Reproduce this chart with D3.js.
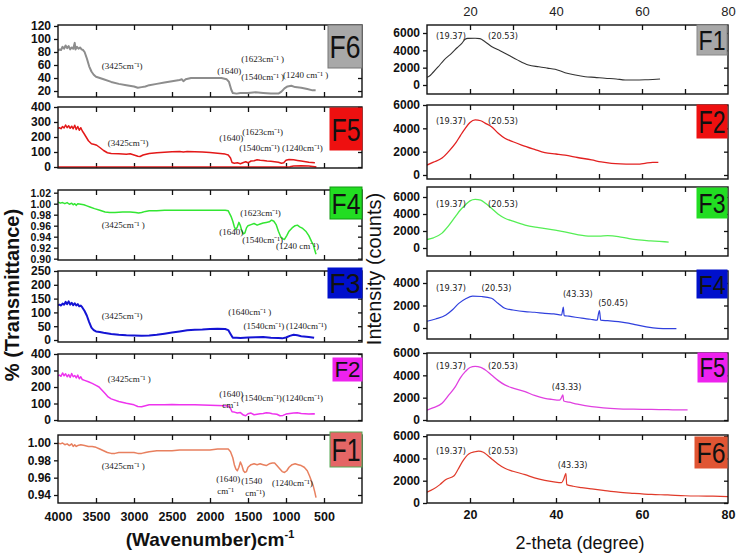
<!DOCTYPE html>
<html><head><meta charset="utf-8">
<script src="https://cdn.jsdelivr.net/npm/d3@7"></script>
<style>body{margin:0;background:#fff}</style>
</head><body><svg id="c" width="738" height="560"></svg>
<script>
// ---------------- FTIR data (wavenumber, transmittance) ----------------
const ftirF6 = [[4000,82],[3980,84],[3960,83],[3940,88],[3920,85],[3900,90],[3880,86],[3860,89],[3840,84],[3820,87],[3800,85],[3780,94],[3770,84],[3750,88],[3730,85],[3710,87],[3690,84],[3670,83],[3650,80],[3620,70],[3590,58],[3560,50],[3530,45],[3500,42],[3450,40],[3400,38],[3300,34],[3200,31],[3100,29],[3000,27],[2950,25],[2900,26],[2850,27],[2800,29],[2700,31],[2600,33],[2500,35],[2400,37],[2370,38],[2350,35],[2320,38],[2250,40],[2150,40],[2050,40],[1950,40],[1850,40],[1780,38],[1750,34],[1720,22],[1700,17],[1650,16],[1600,17],[1500,17],[1400,18],[1300,17],[1200,16],[1100,16],[1060,19],[1020,24],[980,27],[930,28],[880,26],[800,25],[720,23],[650,21],[610,21]];
const ftirF5 = [[4000,258],[3980,262],[3960,255],[3940,270],[3920,260],[3900,280],[3880,262],[3860,275],[3840,258],[3820,272],[3800,255],[3780,278],[3760,250],[3740,270],[3720,245],[3700,262],[3680,240],[3660,225],[3630,200],[3600,175],[3560,155],[3520,150],[3490,145],[3450,130],[3400,110],[3350,95],[3300,90],[3200,88],[3100,85],[3050,88],[3000,80],[2950,72],[2920,70],[2880,80],[2800,90],[2700,95],[2600,98],[2500,102],[2400,104],[2350,100],[2300,104],[2200,102],[2100,100],[2000,96],[1900,92],[1800,86],[1760,80],[1730,60],[1710,30],[1680,25],[1640,28],[1600,22],[1560,30],[1530,35],[1500,28],[1460,40],[1420,42],[1380,48],[1340,45],[1300,44],[1250,40],[1200,38],[1150,35],[1100,32],[1060,25],[1030,28],[1000,45],[960,50],[900,48],[850,44],[800,40],[700,32],[620,28]];
const ftirF5base = [[4000,0],[1000,0],[950,2],[900,7],[800,9],[700,6],[620,2],[600,0]];
const ftirF4 = [[4000,1.003],[3970,1.001],[3940,1.002],[3910,1.000],[3880,1.002],[3850,0.999],[3820,1.001],[3800,0.998],[3780,1.000],[3760,0.997],[3740,1.000],[3700,0.999],[3660,0.998],[3620,0.996],[3580,0.994],[3520,0.991],[3450,0.988],[3380,0.985],[3320,0.984],[3250,0.984],[3150,0.985],[3050,0.985],[2980,0.984],[2940,0.983],[2900,0.984],[2850,0.986],[2800,0.987],[2700,0.987],[2600,0.988],[2500,0.988],[2400,0.988],[2300,0.988],[2200,0.988],[2100,0.988],[2000,0.988],[1900,0.988],[1800,0.988],[1760,0.987],[1720,0.976],[1700,0.968],[1680,0.958],[1660,0.953],[1640,0.958],[1620,0.966],[1600,0.960],[1580,0.950],[1560,0.945],[1540,0.947],[1520,0.956],[1500,0.960],[1460,0.962],[1420,0.964],[1380,0.961],[1340,0.963],[1300,0.965],[1260,0.966],[1220,0.967],[1190,0.970],[1160,0.968],[1130,0.962],[1100,0.950],[1070,0.940],[1040,0.936],[1020,0.935],[990,0.942],[960,0.950],[920,0.956],[880,0.960],[850,0.961],[820,0.958],[780,0.955],[740,0.950],[700,0.942],[660,0.930],[640,0.925],[620,0.915],[605,0.908]];
const ftirF3 = [[4000,126],[3980,128],[3960,125],[3940,132],[3920,128],[3900,138],[3880,130],[3860,140],[3840,128],[3820,135],[3800,126],[3780,133],[3760,125],[3740,130],[3720,122],[3700,125],[3680,118],[3650,105],[3620,88],[3590,65],[3560,45],[3530,36],[3500,31],[3450,29],[3400,26],[3300,22],[3200,19],[3100,17],[3000,16],[2900,15],[2800,16],[2700,19],[2600,23],[2500,27],[2400,31],[2300,35],[2200,37],[2100,38],[2000,40],[1900,41],[1800,40],[1760,36],[1730,22],[1700,8],[1650,8],[1600,7],[1550,8],[1500,9],[1400,10],[1300,11],[1200,8],[1100,7],[1050,6],[1000,9],[950,15],[900,19],[850,17],[800,14],[700,11],[630,8]];
const ftirF2 = [[4000,268],[3980,272],[3960,265],[3940,285],[3920,268],[3900,280],[3880,262],[3860,275],[3840,258],[3820,282],[3800,262],[3780,270],[3760,255],[3740,272],[3720,250],[3700,262],[3680,245],[3650,240],[3600,232],[3550,222],[3500,210],[3460,200],[3420,180],[3380,160],[3340,140],[3300,128],[3200,112],[3100,101],[3000,92],[2950,82],[2900,80],[2850,86],[2800,92],[2700,93],[2600,92],[2500,94],[2400,93],[2300,92],[2200,92],[2100,91],[2000,90],[1900,88],[1800,86],[1760,85],[1730,70],[1710,50],[1680,48],[1640,42],[1600,45],[1560,30],[1530,26],[1500,38],[1460,42],[1420,32],[1380,35],[1340,38],[1300,40],[1260,44],[1220,42],[1180,38],[1120,35],[1080,26],[1040,28],[1000,36],[950,40],[900,42],[850,44],[800,40],[750,38],[700,36],[640,38],[620,36]];
const ftirF1 = [[4000,1.000],[3970,0.999],[3940,1.000],[3910,0.998],[3880,0.999],[3850,0.997],[3820,0.999],[3800,0.996],[3780,0.998],[3760,0.996],[3740,0.997],[3700,0.998],[3650,0.997],[3600,0.996],[3550,0.996],[3500,0.995],[3450,0.993],[3400,0.991],[3350,0.989],[3300,0.988],[3250,0.988],[3200,0.989],[3100,0.989],[3000,0.989],[2950,0.988],[2900,0.988],[2850,0.989],[2800,0.990],[2700,0.991],[2600,0.991],[2500,0.991],[2400,0.992],[2300,0.992],[2200,0.992],[2100,0.992],[2000,0.992],[1900,0.993],[1800,0.993],[1760,0.993],[1730,0.990],[1700,0.983],[1680,0.975],[1660,0.970],[1640,0.968],[1620,0.972],[1600,0.978],[1580,0.974],[1560,0.968],[1540,0.966],[1520,0.967],[1500,0.972],[1460,0.975],[1420,0.976],[1380,0.975],[1340,0.976],[1300,0.975],[1260,0.974],[1220,0.976],[1180,0.977],[1150,0.977],[1120,0.974],[1080,0.970],[1050,0.967],[1020,0.966],[990,0.968],[960,0.972],[920,0.975],[880,0.976],[840,0.975],[800,0.974],[760,0.972],[720,0.968],[690,0.962],[660,0.955],[640,0.950],[620,0.943],[605,0.937]];

// ---------------- XRD data (2-theta, counts) ----------------
const xrdF1 = [[10,900],[10.5,1000],[11.5,1500],[12.6,2100],[14,2900],[15.7,3650],[17,4300],[18.1,4810],[18.8,5250],[19.5,5380],[21.2,5400],[22.3,5350],[23.5,5000],[25,4450],[27,3950],[28.9,3460],[31,2900],[33.6,2310],[36,2100],[38,1950],[39.8,1820],[42.1,1420],[44.5,1150],[46.8,960],[49,880],[51.4,780],[54,700],[56.1,580],[58,580],[60.7,600],[62.5,640],[64.2,690]];
const xrdF2 = [[10,850],[11.5,1100],[13.5,1450],[15,2000],[16.6,2700],[17.8,3400],[18.9,4000],[20,4500],[21.2,4720],[22.5,4650],[23.5,4450],[25,4140],[26.5,3600],[28.1,3150],[30,2850],[32,2570],[35,2200],[37.4,1920],[40,1800],[42.1,1700],[45,1500],[48.3,1290],[50.5,1120],[52.9,1000],[55,950],[57.6,930],[59.5,940],[60.7,1000],[62.5,1080],[63.8,1080]];
const xrdF3 = [[10,1000],[11.5,1200],[13.5,1750],[15,2600],[16.6,3690],[17.8,4500],[18.9,5060],[20,5550],[21.2,5720],[22.5,5620],[23.5,5300],[25,4670],[26.5,4000],[28.1,3500],[30,3150],[32.8,2700],[36,2400],[39.8,2100],[42,1900],[45.2,1550],[48,1400],[50,1400],[52,1450],[54.5,1350],[57,1100],[59.2,950],[62,850],[64,780],[66.2,700]];
const xrdF4 = [[10,600],[12,800],[14.4,1160],[16,1650],[17.4,2190],[19,2600],[20.6,2840],[22.7,2800],[25,2640],[26.5,2200],[28.1,1750],[30,1600],[32.8,1450],[35,1400],[37.4,1300],[39.5,1250],[41.3,1150],[41.5,1500],[41.7,1850],[41.9,1100],[43,1050],[46,870],[48,780],[49.6,700],[49.8,1100],[50.1,1550],[50.4,700],[52,650],[54.5,560],[56,480],[57.6,370],[59,250],[61,100],[63.8,-30],[66,-50],[68,-50]];
const xrdF5 = [[10,880],[11.5,1100],[13.5,1500],[15,2200],[16.6,2990],[17.8,3800],[18.9,4330],[20,4700],[21.2,4800],[22.5,4720],[23.5,4500],[25,4030],[26.5,3550],[28.1,3140],[30,2850],[32.8,2540],[35,2200],[37.4,1940],[39,1850],[40.8,1780],[41.2,1950],[41.6,2250],[41.8,1700],[43,1600],[45,1420],[48.3,1190],[51,1080],[54.5,1000],[58,970],[62.2,950],[66,920],[70.6,900]];
const xrdF6 = [[10,970],[11.5,1250],[13,1650],[14.4,2110],[16.3,2450],[17.2,3000],[18.2,3690],[19.7,4400],[21.2,4600],[22,4650],[23.1,4550],[24,4300],[25,3970],[26.5,3500],[28.1,3110],[30,2850],[32.8,2540],[35,2250],[37.4,2030],[39.5,1900],[41.3,1830],[41.8,2150],[42.3,2650],[42.5,1650],[44,1500],[46,1380],[48.3,1260],[51,1130],[54.5,970],[58,870],[62.2,770],[66,720],[70,650],[75,620],[80,580]];

// ---------------- tick values ----------------
const ftirXTicks = [4000,3500,3000,2500,2000,1500,1000,500];
const xrdXTicks = [20,30,40,50,60,70];
const xrdXLabels = [20,40,60,80];
const ticksF6 = [20,40,60,80,100,120];
const ticksF5 = [0,100,200,300,400];
const ticksF4 = [0.90,0.92,0.94,0.96,0.98,1.00,1.02];
const ticksF3 = [0,50,100,150,200,250];
const ticksF2 = [0,100,200,300,400];
const ticksF1 = [0.94,0.96,0.98,1.00];
const ticksX6000 = [0,2000,4000,6000];
const ticksX4000 = [0,2000,4000];

// ---------------- annotations [x, y, text] ----------------
const notesF6 = [[3424,54,"(3425cm⁻¹)"],[1590,64.6,"(1623cm⁻¹ )"],[1904,46,"(1640)"],[1590,37,"(1540cm⁻¹ )"],[1040,40,"(1240 cm⁻¹ )"]];
const notesF5 = [[3345,140,"(3425cm⁻¹)"],[1878,173,"(1640)"],[1576,213,"(1623cm⁻¹)"],[1616,107,"(1540cm⁻¹)"],[1052,107,"(1240cm⁻¹)"]];
const notesF4 = [[3424,0.956,"(3425cm⁻¹ )"],[1603,0.978,"(1623cm⁻¹)"],[1878,0.943,"(1640)"],[1576,0.929,"(1540cm⁻¹)"],[1131,0.918,"(1240 cm⁻¹)"]];
const notesF3 = [[3424,76,"(3425cm⁻¹)"],[1760,91,"(1640cm⁻¹ )"],[1560,40,"(1540cm⁻¹)"],[1000,40,"(1240cm⁻¹)"]];
const notesF2 = [[3345,230,"(3425cm⁻¹ )"],[1878,139,"(1640)"],[1838,73,"cm⁻¹"],[1590,115,"(1540cm⁻¹)"],[1050,115,"(1240cm⁻¹)"]];
const notesF1 = [[3424,0.970,"(3425cm⁻¹ )"],[1917,0.955,"(1640)"],[1904,0.941,"cm⁻¹"],[1590,0.953,"(1540"],[1537,0.939,"cm⁻¹)"],[1183,0.950,"(1240cm⁻¹)"]];
const notesX1 = [[12.1,5310,"(19.37)"],[24.2,5310,"(20.53)"]];
const notesX2 = [[12.1,4414,"(19.37)"],[24.2,4414,"(20.53)"]];
const notesX3 = [[12.1,4820,"(19.37)"],[24.2,4820,"(20.53)"]];
const notesX4 = [[12.1,3290,"(19.37)"],[22.7,3290,"(20.53)"],[41.6,2760,"(43.33)"],[49.8,2000,"(50.45)"]];
const notesX5 = [[12.1,4570,"(19.37)"],[24.2,4570,"(20.53)"],[39.0,2730,"(43.33)"]];
const notesX6 = [[12.1,4370,"(19.37)"],[24.2,4370,"(20.53)"],[40.4,3170,"(43.33)"]];

// ---------------- layout ----------------
const svg = d3.select('#c');
const xL = d3.scaleLinear().domain([4000,0]).range([58,362]);
const xR = d3.scaleLinear().domain([10,80]).range([427,728]);
const f2 = d3.format('.2f'), fd = d3.format('d');

const leftPanels = [
  {name:'F6', data:[ftirF6], top:25, bottom:97, dom:[10.8,121.5], ticks:ticksF6, fmt:fd, tfs:12, color:'#8d8d8d', lw:2, box:[328,25,362,68], boxFill:'#a8a8a8', boxStroke:'#777', notes:notesF6},
  {name:'F5', data:[ftirF5, ftirF5base], top:107, bottom:168, dom:[-6.7,400], ticks:ticksF5, fmt:fd, tfs:12, color:'#e31818', lw:1.5, box:[330,108,362,150], boxFill:'#ee1010', boxStroke:'#ee1010', notes:notesF5},
  {name:'F4', data:[ftirF4], top:190, bottom:260, dom:[0.8976,1.0249], ticks:ticksF4, fmt:f2, tfs:10.5, color:'#33e633', lw:1.5, box:[330,187,362,219], boxFill:'#22dd22', boxStroke:'#119911', notes:notesF4},
  {name:'F3', data:[ftirF3], top:271, bottom:342, dom:[-7.2,250], ticks:ticksF3, fmt:fd, tfs:12, color:'#1414d4', lw:2, box:[328,268,362,298], boxFill:'#0010cc', boxStroke:'#0010cc', notes:notesF3},
  {name:'F2', data:[ftirF2], top:354, bottom:421, dom:[-6,400], ticks:ticksF2, fmt:fd, tfs:12, color:'#ee33ee', lw:1.5, box:[333,358,362,381], boxFill:'#ee22ee', boxStroke:'#ee22ee', notes:notesF2},
  {name:'F1', data:[ftirF1], top:435, bottom:503, dom:[0.9308,1.0092], ticks:ticksF1, fmt:f2, tfs:12, color:'#e8805f', lw:1.5, box:[330,432,362,467], boxFill:'#e46666', boxStroke:'#55aa55', notes:notesF1}
];
const rightPanels = [
  {name:'F1', data:[xrdF1], top:25, bottom:94, dom:[-1038,6923], ticks:ticksX6000, fmt:fd, tfs:12, color:'#333', lw:1.1, box:[697,25,727,55], boxFill:'#a8a8a8', boxStroke:'#888', notes:notesX1},
  {name:'F2', data:[xrdF2], top:105, bottom:179, dom:[-343,6000], ticks:ticksX6000, fmt:fd, tfs:12, color:'#e22020', lw:1.3, box:[697,105,727,138], boxFill:'#ee1010', boxStroke:'#ee1010', notes:notesX2},
  {name:'F3', data:[xrdF3], top:187, bottom:256, dom:[-941,7176], ticks:ticksX6000, fmt:fd, tfs:12, color:'#55ee55', lw:1.3, box:[697,188,727,218], boxFill:'#22dd22', boxStroke:'#22dd22', notes:notesX3},
  {name:'F4', data:[xrdF4], top:271, bottom:339, dom:[-978,5067], ticks:ticksX4000, fmt:fd, tfs:12, color:'#3040dd', lw:1.2, box:[697,270,727,298], boxFill:'#0010cc', boxStroke:'#0010cc', notes:notesX4},
  {name:'F5', data:[xrdF5], top:353, bottom:421, dom:[-90,6000], ticks:ticksX6000, fmt:fd, tfs:12, color:'#e040e0', lw:1.3, box:[698,353,727,382], boxFill:'#ee22ee', boxStroke:'#ee22ee', notes:notesX5},
  {name:'F6', data:[xrdF6], top:435, bottom:503, dom:[0,6100], ticks:ticksX6000, fmt:fd, tfs:12, color:'#e03a2a', lw:1.2, box:[695,437,727,468], boxFill:'#e05533', boxStroke:'#e05533', notes:notesX6}
];

let clipId = 0;
function drawPanel(p, x, xTicks, noteFont, curve) {
  const y = d3.scaleLinear().domain(p.dom).range([p.bottom, p.top]);
  const [x0, x1] = x.range();
  const g = svg.append('g');
  const id = 'clip' + (clipId++);
  svg.append('clipPath').attr('id', id).append('rect')
    .attr('x', x0).attr('y', p.top).attr('width', x1 - x0).attr('height', p.bottom - p.top);
  const style = s => { s.select('.domain').remove(); s.selectAll('line').attr('stroke', '#111').attr('stroke-width', 1.3); };
  g.append('g').attr('transform', `translate(${x0},0)`)
    .call(d3.axisLeft(y).tickValues(p.ticks).tickSize(4).tickPadding(3).tickFormat(p.fmt))
    .call(style)
    .call(s => s.selectAll('text').attr('font-family', 'Liberation Sans, Arial, sans-serif').attr('font-weight', 'bold').attr('font-size', p.tfs).attr('fill', '#111'));
  g.append('g').attr('transform', `translate(${x1},0)`)
    .call(d3.axisLeft(y).tickValues(p.ticks).tickSize(4).tickFormat('')).call(style);
  g.append('g').attr('transform', `translate(0,${p.top})`)
    .call(d3.axisBottom(x).tickValues(xTicks).tickSize(5).tickFormat('')).call(style);
  g.append('g').attr('transform', `translate(0,${p.bottom})`)
    .call(d3.axisTop(x).tickValues(xTicks).tickSize(5).tickFormat('')).call(style);
  const line = d3.line().x(d => x(d[0])).y(d => y(d[1])).curve(curve);
  p.data.forEach(ser => {
    g.append('path').datum(ser).attr('d', line).attr('fill', 'none')
      .attr('stroke', p.color).attr('stroke-width', p.lw).attr('stroke-linejoin', 'round')
      .attr('clip-path', `url(#${id})`);
  });
  g.append('rect').attr('x', x0).attr('y', p.top).attr('width', x1 - x0).attr('height', p.bottom - p.top)
    .attr('fill', 'none').attr('stroke', '#111').attr('stroke-width', 1.4);
  g.selectAll('text.note').data(p.notes).join('text').attr('class', 'note')
    .attr('x', d => x(d[0])).attr('y', d => y(d[1])).text(d => d[2])
    .attr('font-family', noteFont.family).attr('font-size', noteFont.size).attr('fill', '#222');
  const b = p.box;
  g.append('rect').attr('x', b[0]).attr('y', b[1]).attr('width', b[2] - b[0]).attr('height', b[3] - b[1])
    .attr('fill', p.boxFill).attr('stroke', p.boxStroke).attr('stroke-width', 1);
  const h = b[3] - b[1];
  const fs = Math.min(32, h * 0.95);
  g.append('text').attr('x', (b[0] + b[2]) / 2).attr('y', (b[1] + b[3]) / 2 + fs * 0.36)
    .attr('text-anchor', 'middle').attr('font-family', 'Liberation Sans, Arial, sans-serif')
    .attr('font-size', fs).attr('fill', '#111')
    .attr('textLength', b[2] - b[0] - 3).attr('lengthAdjust', 'spacingAndGlyphs').text(p.name);
  return y;
}

leftPanels.forEach(p => drawPanel(p, xL, ftirXTicks.slice(1), {family: 'Liberation Serif, Times New Roman, serif', size: 9}, d3.curveLinear));
rightPanels.forEach(p => drawPanel(p, xR, xrdXTicks, {family: 'DejaVu Sans, sans-serif', size: 8.2}, d3.curveMonotoneX));

// bottom x labels, left
svg.append('g').attr('transform', 'translate(0,503)')
  .call(d3.axisBottom(xL).tickValues(ftirXTicks).tickSize(0).tickPadding(9).tickFormat(fd))
  .call(s => { s.select('.domain').remove(); s.selectAll('text').attr('font-family', 'Liberation Sans, Arial, sans-serif').attr('font-weight', 'bold').attr('font-size', 12.5).attr('fill', '#111'); });
// bottom x labels, right
svg.append('g').attr('transform', 'translate(0,503)')
  .call(d3.axisBottom(xR).tickValues(xrdXLabels).tickSize(0).tickPadding(7).tickFormat(fd))
  .call(s => { s.select('.domain').remove(); s.selectAll('text').attr('font-family', 'Liberation Sans, Arial, sans-serif').attr('font-weight', 'bold').attr('font-size', 12.5).attr('fill', '#111'); });
// top x labels, right
svg.append('g').attr('transform', 'translate(0,25)')
  .call(d3.axisTop(xR).tickValues(xrdXLabels).tickSize(0).tickPadding(9).tickFormat(fd))
  .call(s => { s.select('.domain').remove(); s.selectAll('text').attr('font-family', 'Liberation Sans, Arial, sans-serif').attr('font-size', 13).attr('fill', '#222'); });

// axis titles
const t1 = svg.append('text').attr('x', 210).attr('y', 546).attr('text-anchor', 'middle')
  .attr('font-family', 'Liberation Sans, Arial, sans-serif').attr('font-weight', 'bold').attr('font-size', 19).attr('fill', '#111');
t1.append('tspan').text('(Wavenumber)cm');
t1.append('tspan').attr('dy', -8).attr('font-size', 11).text('-1');

svg.append('text').attr('x', 580).attr('y', 549).attr('text-anchor', 'middle')
  .attr('font-family', 'Liberation Sans, Arial, sans-serif').attr('font-size', 18).attr('fill', '#111')
  .text('2-theta (degree)');

svg.append('text').attr('transform', 'translate(19,295) rotate(-90)').attr('text-anchor', 'middle')
  .attr('font-family', 'Liberation Sans, Arial, sans-serif').attr('font-weight', 'bold').attr('font-size', 20).attr('fill', '#111')
  .text('% (Transmittance)');

svg.append('text').attr('transform', 'translate(381,269) rotate(-90)').attr('text-anchor', 'middle')
  .attr('font-family', 'Liberation Sans, Arial, sans-serif').attr('font-size', 20).attr('fill', '#111')
  .text('Intensity (counts)');
</script>
</body></html>
